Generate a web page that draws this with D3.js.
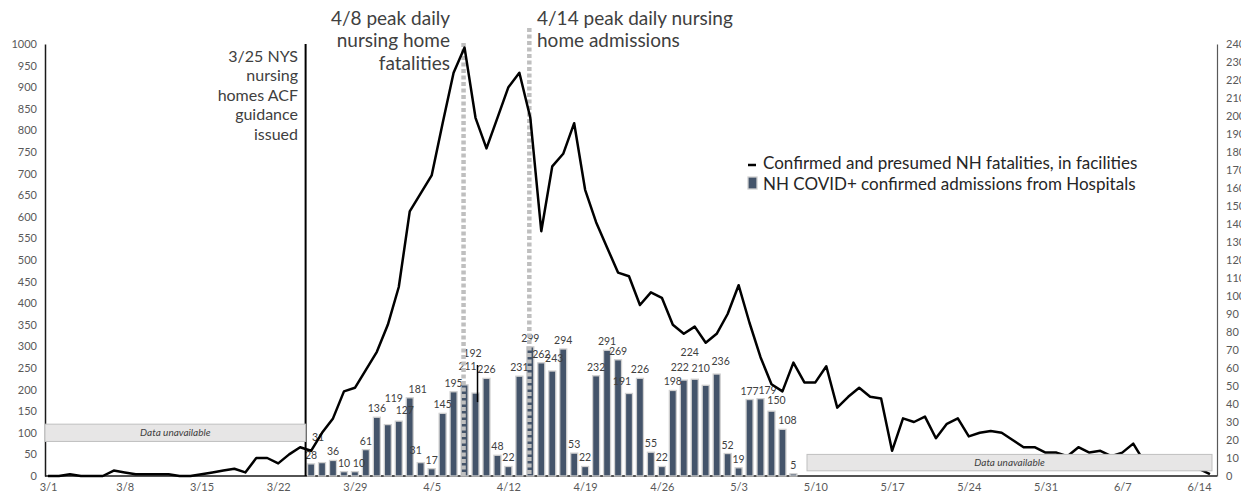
<!DOCTYPE html>
<html><head><meta charset="utf-8">
<script src="https://cdn.jsdelivr.net/npm/d3@7"></script>
<style>
body{margin:0;background:#fff;}
text{font-family:Lato,'Liberation Sans',sans-serif;}
</style>
</head><body>
<svg id="chart" width="1241" height="496"></svg>
<script>
// ---------------- data ----------------
const lineStart = "2020-03-01";
// Confirmed and presumed NH fatalities, in facilities (daily, right axis), from 3/1
const fatalities = [
  0,0,1,0,0,0,3,2,1,1,1,1,0,0,1,2,3,4,2,10,10,7,12,16,14,
  24,32,47,49,59,69,84,105,147,157,167,196,224,238,199,182,199,216,224,199,136,
  172,179,196,159,141,127,113,111,95,102,99,84,79,83,74,79,90,106,85,66,51,47,63,52,52,61,38,44,
  49,44,43,14,32,30,33,21,29,32,22,24,25,24,20,16,16,13,13,11,16,13,14,11,13,18,8,
  7,6,6,5,4,1
];
// NH COVID+ confirmed admissions from hospitals (daily, left axis), from 3/25
const barStart = "2020-03-25";
const admissions = [
  28,31,36,10,10,61,136,119,127,181,31,17,145,195,211,192,226,48,22,231,299,262,243,294,53,22,
  232,291,269,191,226,55,22,198,222,224,210,236,52,19,177,179,150,108,5
];
const xTickLabels = ["3/1","3/8","3/15","3/22","3/29","4/5","4/12","4/19","4/26","5/3","5/10","5/17","5/24","5/31","6/7","6/14"];
const leftTicks = [0,50,100,150,200,250,300,350,400,450,500,550,600,650,700,750,800,850,900,950,1000];
const rightTicks = [0,10,20,30,40,50,60,70,80,90,100,110,120,130,140,150,160,170,180,190,200,210,220,230,240];
const seriesNames = ["Confirmed and presumed NH fatalities, in facilities","NH COVID+ confirmed admissions from Hospitals"];
const eventDates = {guidance:"2020-03-25", peakFatal:"2020-04-08", peakAdmit:"2020-04-14"};
const noteGuidance = ["3/25 NYS","nursing","homes ACF","guidance","issued"];
const notePeakFatal = ["4/8 peak daily","nursing home","fatalities"];
const notePeakAdmit = ["4/14 peak daily nursing","home admissions"];
const unavailableText = "Data unavailable";

// label placement tweaks (style only), keyed by bar date "m/d": [dx, dy]
const labelNudge = {
  "3/26":[-4,-17], "3/29":[4,0], "4/1":[6,-18], "4/2":[6,-2], "4/3":[8,0], "4/4":[-5,-4],
  "4/8":[3,-10], "4/9":[-3,-31], "4/16":[2,-4], "4/23":[-7,-3],
  "4/28":[-4,-4], "4/29":[-5,-18], "4/30":[-5,-8], "5/1":[4,-4],
  "5/5":[7,0], "5/6":[5,-2], "5/7":[5,0]
};

// ---------------- setup ----------------
const svg = d3.select("#chart");
const parse = d3.utcParse("%Y-%m-%d");
const md = d3.utcFormat("%-m/%-d");
const day = 864e5;
const d0 = parse(lineStart);
const lineData = fatalities.map((v,i)=>({date:new Date(+d0+i*day), v}));
const b0 = parse(barStart);
const barData = admissions.map((v,i)=>({date:new Date(+b0+i*day), v}));

const x = d3.scaleUtc().domain([parse("2020-03-01"), parse("2020-06-14")]).range([48,1199]);
const yL = d3.scaleLinear().domain([0,1000]).range([476,44]);
const yR = d3.scaleLinear().domain([0,240]).range([476,44]);
const plotL = 45, plotR = 1217;
const tickDates = xTickLabels.map(s=>{const [m,d]=s.split("/").map(Number);return new Date(Date.UTC(2020,m-1,d));});

const txt = "#404040", axTxt = "#595959";

// Left axis
const gL = svg.append("g").attr("transform",`translate(${plotL},0)`)
  .call(d3.axisLeft(yL).tickValues(leftTicks).tickSize(0).tickPadding(8).tickFormat(d3.format("d")));
gL.select(".domain").attr("stroke","#1a1a1a").attr("stroke-width",1.5);
gL.selectAll("text").attr("fill",axTxt).style("font-size","11px");

// Right axis
const gR = svg.append("g").attr("transform",`translate(${plotR},0)`)
  .call(d3.axisRight(yR).tickValues(rightTicks).tickSize(0).tickPadding(9));
gR.select(".domain").attr("stroke","#595959").attr("stroke-width",1.2);
gR.selectAll("text").attr("fill",axTxt).style("font-size","11px");

// X axis
const gX = svg.append("g").attr("transform",`translate(0,476)`)
  .call(d3.axisBottom(x).tickValues(tickDates).tickSize(0).tickPadding(7).tickFormat((d,i)=>xTickLabels[i]));
gX.select(".domain").remove();
svg.append("line").attr("x1",plotL).attr("x2",plotR).attr("y1",476).attr("y2",476).attr("stroke","#1a1a1a").attr("stroke-width",1.5);
gX.selectAll("text").attr("fill",axTxt).style("font-size","11px");

// Bars
const bw = 7;
svg.append("g").selectAll("rect").data(barData).join("rect")
  .attr("x",d=>x(d.date)-bw/2).attr("width",bw)
  .attr("y",d=>yL(d.v)).attr("height",d=>yL(0)-yL(d.v))
  .attr("fill","#44546a").attr("stroke","#d0d0d0").attr("stroke-width",1.3);

// Bar labels
const nud = d=>labelNudge[md(d.date)]||[0,0];
svg.append("g").selectAll("text").data(barData).join("text")
  .attr("x",d=>x(d.date)+nud(d)[0]).attr("y",d=>yL(d.v)-5+nud(d)[1])
  .attr("text-anchor","middle").attr("fill",txt).style("font-size","10.5px")
  .text(d=>d.v);

// Data unavailable boxes
function unavail(x1,x2,vTop,vBot){
  const g = svg.append("g");
  g.append("rect").attr("x",x1).attr("width",x2-x1).attr("y",yL(vTop)).attr("height",yL(vBot)-yL(vTop))
    .attr("fill","#e7e6e6").attr("stroke","#bfbfbf").attr("stroke-width",1);
  g.append("text").attr("x",(x1+x2)/2).attr("y",(yL(vTop)+yL(vBot))/2).attr("dy","0.35em")
    .attr("text-anchor","middle").attr("fill",txt).style("font-size","10px").style("font-style","italic")
    .text(unavailableText);
}

// Event lines
const xg = x(new Date(+parse(eventDates.guidance) - day/2));
svg.append("line").attr("x1",xg).attr("x2",xg).attr("y1",yL(1000)).attr("y2",yL(0)).attr("stroke","#000").attr("stroke-width",2);
[[eventDates.peakFatal,yL(1000)-1],[eventDates.peakAdmit,28]].forEach(([d,top])=>{
  const xx = x(parse(d));
  svg.append("line").attr("x1",xx-1).attr("x2",xx-1).attr("y1",top).attr("y2",yL(0))
    .attr("stroke","#bfbfbf").attr("stroke-width",4.5).attr("stroke-dasharray","4 2.5");
});

// Line
svg.append("path").datum(lineData)
  .attr("d",d3.line().x(d=>x(d.date)).y(d=>yR(d.v)))
  .attr("fill","none").attr("stroke","#000").attr("stroke-width",2.5).attr("stroke-linejoin","round");

unavail(plotL, xg, 120, 80);
unavail(807, 1212, 50, 12);

// small stray marker near 4/9
const x49 = x(parse("2020-04-09"))+2;
svg.append("line").attr("x1",x49).attr("x2",x49).attr("y1",yL(257)).attr("y2",yL(171)).attr("stroke","#000").attr("stroke-width",1.5);

// Annotations
function note(lines,xx,y0,lh,anchor,fs){
  const t = svg.append("text").attr("text-anchor",anchor).attr("fill",txt).style("font-size",fs+"px");
  lines.forEach((s,i)=>t.append("tspan").attr("x",xx).attr("y",y0+i*lh).attr("dy","0.35em").text(s));
}
note(noteGuidance, 298, 56, 19.5, "end", 16);
note(notePeakFatal, 450, 18, 22.5, "end", 19);
note(notePeakAdmit, 537, 18, 22.5, "start", 19);

// Legend
const lg = svg.append("g");
lg.append("line").attr("x1",748).attr("x2",756).attr("y1",165).attr("y2",165).attr("stroke","#000").attr("stroke-width",2.5);
lg.append("rect").attr("x",748).attr("y",177).attr("width",9).attr("height",12).attr("fill","#44546a").attr("stroke","#d0d0d0").attr("stroke-width",1.3);
seriesNames.forEach((s,i)=>lg.append("text").attr("x",763).attr("y",163+i*21).attr("dy","0.35em")
  .attr("fill","#262626").style("font-size","17px").text(s));
</script>
</body></html>
